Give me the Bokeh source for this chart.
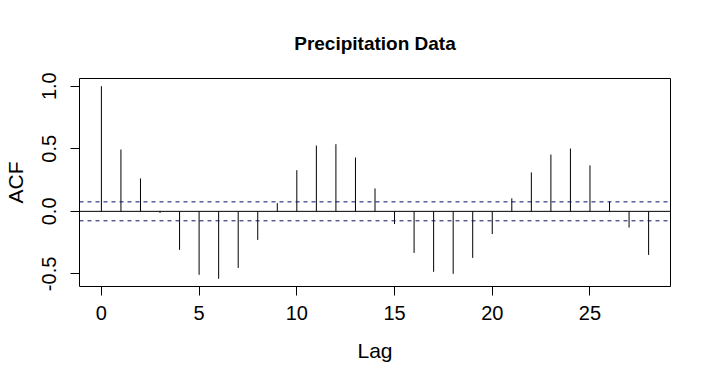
from bokeh.plotting import figure
from bokeh.models import Range1d, FixedTicker, PrintfTickFormatter, Span
from bokeh.embed import file_html
from bokeh.resources import INLINE

lags = list(range(0, 29))
acf = [1.000, 0.494, 0.263, -0.013, -0.308, -0.507, -0.539, -0.452, -0.228,
       0.066, 0.329, 0.526, 0.537, 0.430, 0.183, -0.101, -0.332, -0.483,
       -0.499, -0.372, -0.181, 0.104, 0.311, 0.454, 0.502, 0.367, 0.077,
       -0.130, -0.348]
ci = 0.0757
x_ticks = [0, 5, 10, 15, 20, 25]
y_ticks = [-0.5, 0.0, 0.5, 1.0]
title_text = "Precipitation Data"

FONT = "Liberation Sans"
FRAME_W, FRAME_H = 592, 208
BL, BR, BT, BB = 78, 25, 78, 82

xlo, xhi = min(lags), max(lags)
xpad = 0.04 * (xhi - xlo)
ylo, yhi = min(min(acf), -ci), max(max(acf), ci)
ypad = 0.04 * (yhi - ylo)

p = figure(width=BL + FRAME_W + BR, height=BT + FRAME_H + BB,
           output_backend="svg", toolbar_location=None,
           title=title_text,
           x_range=Range1d(xlo - xpad, xhi + xpad),
           y_range=Range1d(ylo - ypad, yhi + ypad),
           min_border_left=BL, min_border_right=BR,
           min_border_top=BT, min_border_bottom=BB)
p.background_fill_color = "white"
p.border_fill_color = "white"
p.outline_line_color = "black"
p.outline_line_width = 1
p.grid.visible = False

p.title.align = "center"
p.title.text_font = FONT
p.title.text_font_size = "19px"
p.title.text_font_style = "bold"
p.title.text_color = "black"
p.title.standoff = 50

p.segment(x0=lags, y0=[0] * len(lags), x1=lags, y1=acf,
          line_color="black", line_width=1)

p.add_layout(Span(location=0, dimension="width", line_color="black", line_width=1))
for c in (ci, -ci):
    p.add_layout(Span(location=c, dimension="width", line_color="#0c0c70",
                      line_width=1, line_dash="4 4"))

for ax in (p.xaxis[0], p.yaxis[0]):
    ax.axis_line_color = None
    ax.major_tick_in = 0
    ax.major_tick_out = 9
    ax.minor_tick_line_color = None
    ax.major_tick_line_color = "black"
    ax.major_label_text_font = FONT
    ax.major_label_text_font_size = "20px"
    ax.major_label_text_color = "black"
    ax.axis_label_text_font = FONT
    ax.axis_label_text_font_size = "21px"
    ax.axis_label_text_font_style = "normal"
    ax.axis_label_text_color = "black"

p.xaxis[0].ticker = FixedTicker(ticks=x_ticks)
p.yaxis[0].ticker = FixedTicker(ticks=y_ticks)
p.yaxis[0].formatter = PrintfTickFormatter(format="%.1f")
p.yaxis[0].major_label_orientation = "vertical"
p.xaxis[0].axis_label = "Lag"
p.yaxis[0].axis_label = "ACF"
p.xaxis[0].major_label_standoff = 10
p.yaxis[0].major_label_standoff = 14
p.xaxis[0].axis_label_standoff = 16
p.yaxis[0].axis_label_standoff = 13

open("out.html", "w").write(file_html(p, INLINE))
